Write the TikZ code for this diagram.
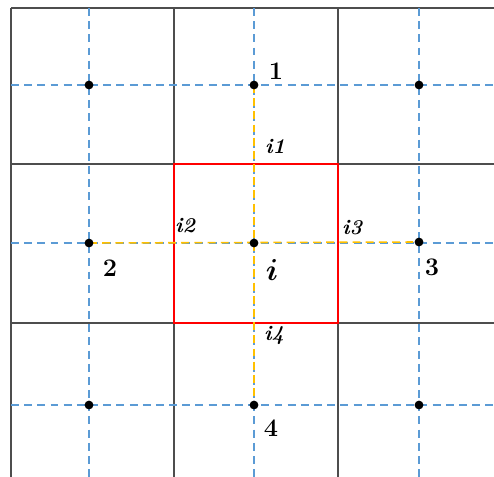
\documentclass[tikz,border=0pt]{standalone}
\usepackage{amsmath,amssymb}
\usepackage{tikz}
\usetikzlibrary{positioning}
\definecolor{gridtxt}{HTML}{4D4D4D}
\definecolor{gridacc}{HTML}{5B9BD5}
\definecolor{linkacc}{HTML}{FFC000}
\definecolor{cellacc}{HTML}{FF0000}

\begin{document}
\begin{tikzpicture}[
  x=0.02cm, y=-0.02cm,
  solidline/.style={draw=gridtxt, line width=0.6pt},
  meshline/.style={draw=gridacc, line width=0.8pt, dash pattern=on 4.5pt off 3pt},
  linkline/.style={draw=linkacc, line width=0.9pt, dash pattern=on 4.5pt off 3pt},
  pt/.style={circle, fill=black, inner sep=0pt, minimum size=5pt},
  num/.style={font=\Large\bfseries},
  face/.style={font=\large\bfseries\itshape}
]
\useasboundingbox (0,0) rectangle (494,477);

% --- solid cell grid ---
\foreach \x in {11, 174, 338} {
  \draw[solidline] (\x, 8) -- (\x, 477);
}
\foreach \y in {8, 164, 323} {
  \draw[solidline] (11, \y) -- (494, \y);
}

% --- dashed mesh through the centres ---
\foreach \x in {89, 254, 419} {
  \draw[meshline] (\x, 8) -- (\x, 477);
}
\foreach \y in {85, 243, 405} {
  \draw[meshline] (11, \y) -- (494, \y);
}

% --- cell i ---
\draw[draw=cellacc, line width=1.4pt] (174, 164) rectangle (338, 323);

% --- centre points ---
\coordinate (n1) at (254, 85);
\coordinate (n2) at (89, 243);
\coordinate (n3) at (419, 242);
\coordinate (n4) at (254, 405);
\coordinate (ni) at (254, 243);

% --- links to the neighbours ---
\draw[linkline] (n1) -- (n4);
\draw[linkline] (n2) -- (n3);

\foreach \c in {n1, n2, n3, n4, ni} {
  \node[pt] at (\c) {};
}
\foreach \x/\y/\n in {89/85/a, 419/85/b, 89/405/c, 419/405/d} {
  \node[pt] (corner\n) at (\x, \y) {};
}

% --- labels ---
\node[num] (l1) at (276, 71) {1};
\node[num] (l2) at (110, 268) {2};
\node[num] (l3) at (432, 267) {3};
\node[num] (l4) at (271, 428) {4};
\node[font=\LARGE] (li) at (272, 270) {$\boldsymbol{i}$};
\node[face] (fi1) at (275, 146) {i1};
\node[face] (fi2) at (185, 226) {i2};
\node[face] (fi3) at (352, 228) {i3};
\node[face] (fi4) at (274, 335) {i4};

\end{tikzpicture}
\end{document}
